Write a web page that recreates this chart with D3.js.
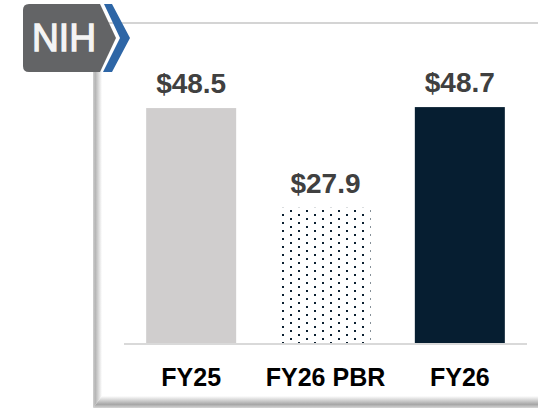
<!DOCTYPE html>
<html>
<head>
<meta charset="utf-8">
<script src="https://cdn.jsdelivr.net/npm/d3@7"></script>
<style>
  html, body { margin: 0; padding: 0; background: #fff; }
  svg { display: block; font-family: "Liberation Sans", Arial, sans-serif; }
</style>
</head>
<body>
<div id="chart"></div>
<script>
// data
var categories = ["FY25", "FY26 PBR", "FY26"];
var values = [48.5, 27.9, 48.7];
var valueLabels = ["$48.5", "$27.9", "$48.7"];

var width = 538, height = 409;
var barFills = ["#d0cece", "url(#dots)", "#061e31"];

var svg = d3.select("#chart").append("svg")
    .attr("width", width)
    .attr("height", height);

var defs = svg.append("defs");

// dotted pattern for the PBR bar
var pat = defs.append("pattern")
    .attr("id", "dots")
    .attr("patternUnits", "userSpaceOnUse")
    .attr("width", 16)
    .attr("height", 8);
pat.append("rect").attr("width", 16).attr("height", 8).attr("fill", "#fff");
pat.append("rect").attr("x", 2).attr("y", 2).attr("width", 2).attr("height", 2).attr("fill", "#0b1f30");
pat.append("rect").attr("x", 10).attr("y", 6).attr("width", 2).attr("height", 2).attr("fill", "#0b1f30");

// frame gradients
var gl = defs.append("linearGradient").attr("id", "leftBevel")
    .attr("x1", "0%").attr("x2", "100%").attr("y1", "0%").attr("y2", "0%");
gl.append("stop").attr("offset", "0%").attr("stop-color", "#d0d0d0");
gl.append("stop").attr("offset", "25%").attr("stop-color", "#b4b4b4");
gl.append("stop").attr("offset", "100%").attr("stop-color", "#ffffff");

var gb = defs.append("linearGradient").attr("id", "bottomBevel")
    .attr("x1", "0%").attr("x2", "0%").attr("y1", "0%").attr("y2", "100%");
gb.append("stop").attr("offset", "0%").attr("stop-color", "#ffffff");
gb.append("stop").attr("offset", "70%").attr("stop-color", "#a6a6a6");
gb.append("stop").attr("offset", "100%").attr("stop-color", "#d6d6d6");

// frame: top line, left and bottom bevels
svg.append("rect")
    .attr("x", 100).attr("y", 22)
    .attr("width", width - 100).attr("height", 2)
    .attr("fill", "#d4d4d4");

svg.append("path")
    .attr("d", "M93,60 L102,60 L102,396 L93,408 Z")
    .attr("fill", "url(#leftBevel)");

svg.append("path")
    .attr("d", "M102,396 L538,396 L538,408 L93,408 Z")
    .attr("fill", "url(#bottomBevel)");

// scales
var x = d3.scaleBand()
    .domain(categories)
    .range([124, 527])
    .paddingInner(0.33)
    .paddingOuter(0.165);

var y = d3.scaleLinear()
    .domain([0, 50])
    .range([343, 100.8]);

// baseline
svg.append("line")
    .attr("x1", 124).attr("x2", 527)
    .attr("y1", y(0) + 1).attr("y2", y(0) + 1)
    .attr("stroke", "#d9d9d9")
    .attr("stroke-width", 2);

// bars
svg.selectAll(".bar")
    .data(values)
    .enter()
    .append("rect")
    .attr("class", "bar")
    .attr("x", function(d, i) { return x(categories[i]); })
    .attr("y", function(d) { return y(d); })
    .attr("width", x.bandwidth())
    .attr("height", function(d) { return y(0) - y(d); })
    .attr("fill", function(d, i) { return barFills[i]; });

// value labels
svg.selectAll(".valueLabel")
    .data(values)
    .enter()
    .append("text")
    .attr("class", "valueLabel")
    .attr("x", function(d, i) { return x(categories[i]) + x.bandwidth() / 2; })
    .attr("y", function(d) { return y(d) - 15; })
    .attr("text-anchor", "middle")
    .attr("font-size", 28)
    .attr("font-weight", "bold")
    .attr("fill", "#404040")
    .text(function(d, i) { return valueLabels[i]; });

// category labels
svg.append("g")
    .attr("transform", "translate(0," + 386 + ")")
    .call(d3.axisBottom(x).tickSize(0).tickPadding(0))
    .call(function(g) { g.select(".domain").remove(); })
    .selectAll("text")
    .attr("dy", 0)
    .attr("font-family", "Liberation Sans, Arial, sans-serif")
    .attr("font-size", 25)
    .attr("font-weight", "bold")
    .attr("fill", "#000");

// NIH logo
var logo = svg.append("g");
logo.append("path")
    .attr("d", "M29,4 L100,4 L116,38 L100,72 L29,72 Q23,72 23,66 L23,10 Q23,4 29,4 Z")
    .attr("fill", "#636466");
logo.append("path")
    .attr("d", "M104,4 L112,4 L130,38 L112,72 L103,72 L120,38 Z")
    .attr("fill", "#2e66a6");
logo.append("text")
    .attr("x", 32)
    .attr("y", 51)
    .attr("font-size", 38)
    .attr("fill", "#f4f4f4")
    .attr("stroke", "#f4f4f4")
    .attr("stroke-width", 1.3)
    .attr("textLength", 64)
    .attr("lengthAdjust", "spacingAndGlyphs")
    .text("NIH");
</script>
</body>
</html>
